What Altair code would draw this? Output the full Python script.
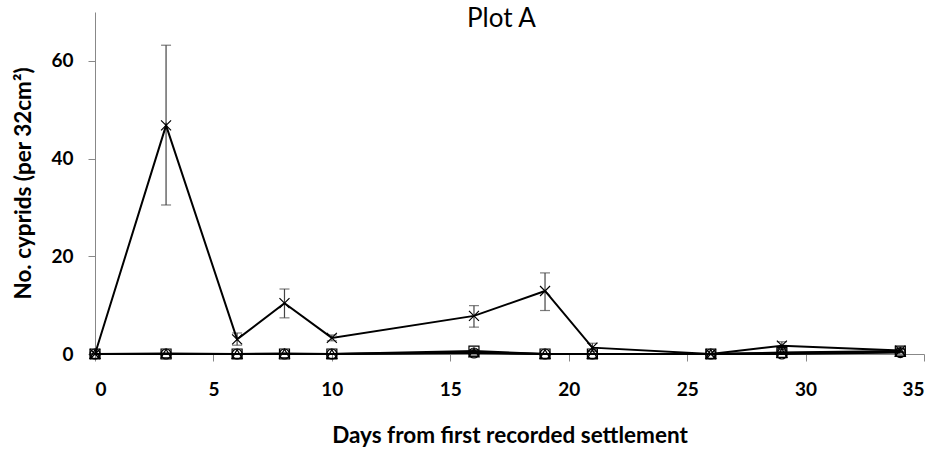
import altair as alt
import pandas as pd

days = [0, 3, 6, 8, 10, 16, 19, 21, 26, 29, 34]

cross_vals = [0, 46.8, 3.0, 10.4, 3.3, 7.8, 12.9, 1.3, 0, 1.7, 0.7]
cross_lo = [0, 30.5, 1.8, 7.4, 2.7, 5.5, 8.9, 0.5, 0, 1.1, 0.3]
cross_hi = [0, 63.2, 4.3, 13.3, 3.9, 9.9, 16.6, 2.2, 0, 2.5, 1.1]

square_vals = [0, 0, 0, 0, 0, 0.6, 0, 0, 0, 0.3, 0.6]
square_lo = [0, 0, 0, 0, 0, 0.3, 0, 0, 0, 0.1, 0.3]
square_hi = [0, 0, 0, 0, 0, 0.9, 0, 0, 0, 0.5, 0.9]

tri_vals = [0, 0.1, 0, 0.1, 0, 0.3, 0, 0, 0, 0.2, 0.4]
circ_vals = [0, 0, 0, 0, 0, 0.2, 0, 0, 0, 0, 0.3]

series_names = ["Cross", "Square", "Triangle", "Circle"]

rows = []
for name, vals, lo, hi in [
    ("Cross", cross_vals, cross_lo, cross_hi),
    ("Square", square_vals, square_lo, square_hi),
    ("Triangle", tri_vals, tri_vals, tri_vals),
    ("Circle", circ_vals, circ_vals, circ_vals),
]:
    for d, v, l, h in zip(days, vals, lo, hi):
        rows.append({"series": name, "day": d, "value": v, "lo": l, "hi": h})
df = pd.DataFrame(rows)

x_scale = alt.Scale(domain=[0, 35], nice=False, zero=False)
y_scale = alt.Scale(domain=[0, 70], nice=False)

x_axis = alt.Axis(title="Days from first recorded settlement",
                  values=[0, 5, 10, 15, 20, 25, 30, 35])
y_axis = alt.Axis(title="No. cyprids (per 32cm²)", values=[0, 20, 40, 60])

base = alt.Chart(df)

errs = base.mark_errorbar(ticks=alt.TickConfig(size=10, color="#444444", thickness=1.2),
                          color="#444444", thickness=1.2).encode(
    x=alt.X("day:Q", scale=x_scale, axis=x_axis),
    y=alt.Y("lo:Q", scale=y_scale, axis=y_axis),
    y2="hi:Q",
    detail="series:N",
)

lines = base.mark_line(color="black", strokeWidth=2).encode(
    x=alt.X("day:Q", scale=x_scale, axis=x_axis),
    y=alt.Y("value:Q", scale=y_scale, axis=y_axis),
    detail="series:N",
)

shape_scale = alt.Scale(
    domain=series_names,
    range=["M-1,-1L1,1M-1,1L1,-1", "square", "triangle-up", "circle"],
)

pts = base.mark_point(filled=False, color="black", strokeWidth=1.2, size=100, opacity=1).encode(
    x=alt.X("day:Q", scale=x_scale, axis=x_axis),
    y=alt.Y("value:Q", scale=y_scale, axis=y_axis),
    shape=alt.Shape("series:N", scale=shape_scale, legend=None),
)

chart = alt.layer(errs, lines, pts).properties(
    width=829,
    height=342,
    title=alt.TitleParams(text="Plot A", font="Lato", fontSize=26, fontWeight="normal",
                          color="black", anchor="middle", baseline="top", dy=24, dx=-8),
    autosize=alt.AutoSizeParams(type="none"),
    padding={"left": 95, "top": 12, "right": 9, "bottom": 96},
).configure_view(stroke=None).configure_axis(
    grid=False,
    domainColor="#888888",
    tickColor="#888888",
    tickSize=7,
    labelFont="Lato",
    labelFontSize=19,
    labelFontWeight="bold",
    labelColor="black",
    titleFont="Lato",
    titleFontSize=22.5,
    titleFontWeight="bold",
    titleColor="black",
).configure_axisX(
    labelPadding=19, titlePadding=25,
).configure_axisY(
    labelPadding=15, titlePadding=15,
)

chart.save("out.html", embed_options={"renderer": "svg", "actions": False})
